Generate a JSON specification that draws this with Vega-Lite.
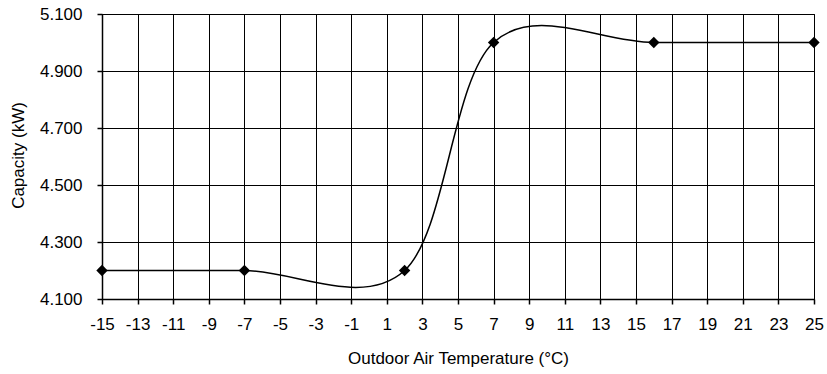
{
  "$schema": "https://vega.github.io/schema/vega-lite/v6.json",
  "width": 712,
  "height": 285,
  "autosize": {"type": "none"},
  "padding": {"left": 102, "top": 14, "right": 13, "bottom": 75},
  "background": "white",
  "config": {
    "view": {"stroke": "#000", "strokeWidth": 1},
    "font": "Liberation Sans",
    "axis": {
      "labelFont": "Liberation Sans",
      "titleFont": "Liberation Sans",
      "labelFontSize": 17,
      "titleFontSize": 17,
      "labelColor": "#000",
      "titleColor": "#000",
      "titleFontWeight": "normal",
      "domainColor": "#000",
      "domainWidth": 1.5,
      "tickColor": "#000",
      "tickWidth": 1.5,
      "tickSize": 5,
      "ticks": true,
      "gridColor": "#000",
      "gridOpacity": 1,
      "gridWidth": 1
    }
  },
  "data": {
    "values": [
      {"temp": -15, "capacity": 4.2},
      {"temp": -7, "capacity": 4.2},
      {"temp": 2, "capacity": 4.2},
      {"temp": 7, "capacity": 5.0},
      {"temp": 16, "capacity": 5.0},
      {"temp": 25, "capacity": 5.0}
    ]
  },
  "encoding": {
    "x": {
      "field": "temp",
      "type": "quantitative",
      "scale": {"domain": [-15, 25], "nice": false, "zero": false},
      "axis": {
        "title": "Outdoor Air Temperature (°C)",
        "values": [-15, -13, -11, -9, -7, -5, -3, -1, 1, 3, 5, 7, 9, 11, 13, 15, 17, 19, 21, 23, 25],
        "labelExpr": "datum.value < 0 ? '-' + abs(datum.value) : '' + datum.value",
        "labelPadding": 12,
        "labelFlush": false,
        "labelOverlap": false,
        "titleY": 64,
        "titleBaseline": "alphabetic",
        "grid": true
      }
    },
    "y": {
      "field": "capacity",
      "type": "quantitative",
      "scale": {"domain": [4.1, 5.1], "nice": false, "zero": false},
      "axis": {
        "title": "Capacity (kW)",
        "values": [4.1, 4.3, 4.5, 4.7, 4.9, 5.1],
        "format": ".3f",
        "labelPadding": 15,
        "labelAlign": "right",
        "labelFlush": false,
        "labelOverlap": false,
        "titleAngle": 270,
        "titleX": -84,
        "titleY": 141,
        "titleAlign": "center",
        "titleBaseline": "middle",
        "grid": true
      }
    }
  },
  "layer": [
    {
      "mark": {"type": "line", "interpolate": "cardinal", "color": "#000", "strokeWidth": 1.5}
    },
    {
      "mark": {"type": "point", "shape": "diamond", "filled": true, "color": "#000", "opacity": 1, "size": 130}
    }
  ]
}
